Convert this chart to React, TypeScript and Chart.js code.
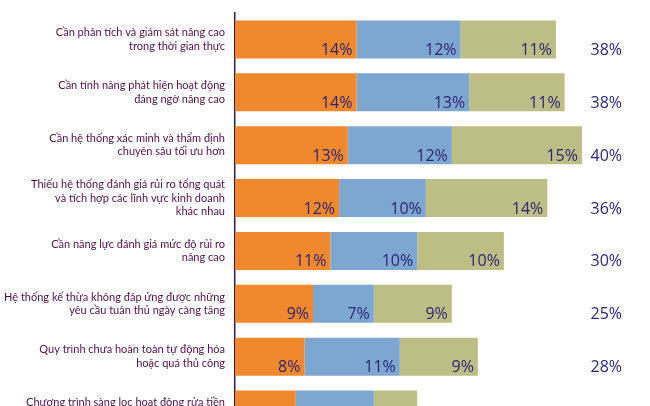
import React, { useEffect, useRef } from "react";
import { Chart, registerables } from "chart.js";

Chart.register(...registerables);

const categories: string[][] = [
  ["Cần phân tích và giám sát nâng cao", "trong thời gian thực"],
  ["Cần tính năng phát hiện hoạt động", "đáng ngờ nâng cao"],
  ["Cần hệ thống xác minh và thẩm định", "chuyên sâu tối ưu hơn"],
  ["Thiếu hệ thống đánh giá rủi ro tổng quát", "và tích hợp các lĩnh vực kinh doanh", "khác nhau"],
  ["Cần năng lực đánh giá mức độ rủi ro", "nâng cao"],
  ["Hệ thống kế thừa không đáp ứng được những", "yêu cầu tuân thủ ngày càng tăng"],
  ["Quy trình chưa hoàn toàn tự động hóa", "hoặc quá thủ công"],
  ["Chương trình sàng lọc hoạt động rửa tiền", "chưa hiệu quả"],
];

const seriesA = [14, 14, 13, 12, 11, 9, 8, 7];
const seriesB = [12, 13, 12, 10, 10, 7, 11, 9];
const seriesC = [11, 11, 15, 14, 10, 9, 9, 5];
const totals = [38, 38, 40, 36, 30, 25, 28, 21];

const seriesNames = ["Nhóm 1", "Nhóm 2", "Nhóm 3"];
const colors = ["#F0882E", "#7DA7D0", "#BDBD86"];
const textColor = "#2E2574";
const labelColor = "#4E1249";

const valuePlugin = {
  id: "valueLabels",
  afterDatasetsDraw(chart: any) {
    const ctx = chart.ctx;
    ctx.save();
    ctx.font = "16px 'Open Sans'";
    ctx.fillStyle = textColor;
    ctx.textAlign = "right";
    ctx.textBaseline = "alphabetic";
    chart.data.datasets.forEach((ds: any, d: number) => {
      const meta = chart.getDatasetMeta(d);
      meta.data.forEach((bar: any, i: number) => {
        const p = bar.getProps(["x", "y", "height"], true);
        ctx.fillText(ds.data[i] + "%", p.x - 4, p.y + p.height / 2 - 3.5);
      });
    });
    const meta0 = chart.getDatasetMeta(0);
    meta0.data.forEach((bar: any, i: number) => {
      const p = bar.getProps(["y", "height"], true);
      ctx.fillText(totals[i] + "%", chart.chartArea.right - 12, p.y + p.height / 2 - 3.5);
    });
    ctx.restore();
  },
};

export default function App() {
  const ref = useRef<HTMLCanvasElement | null>(null);
  useEffect(() => {
    if (!ref.current) return;
    const chart = new Chart(ref.current, {
      type: "bar",
      data: {
        labels: categories as any,
        datasets: [seriesA, seriesB, seriesC].map((data, k) => ({
          label: seriesNames[k],
          data,
          backgroundColor: colors[k],
          borderWidth: 0,
          barPercentage: 0.72,
          categoryPercentage: 1,
        })),
      },
      options: {
        indexAxis: "y",
        animation: false,
        responsive: true,
        maintainAspectRatio: false,
        layout: { padding: { top: 13, bottom: 0, left: 0, right: 16 } },
        plugins: { legend: { display: false }, tooltip: { enabled: false } },
        scales: {
          x: {
            stacked: true,
            display: false,
            min: 0,
            max: 46,
          },
          y: {
            stacked: true,
            grid: { display: false },
            border: { display: true, color: "#3B1A45", width: 1.5 },
            afterFit: (s: any) => {
              s.width = 235;
              s.paddingTop = 0;
              s.paddingBottom = 0;
            },
            ticks: {
              color: labelColor,
              padding: 2,
              font: { family: "Lato, sans-serif", size: 11, lineHeight: 1.23 },
            },
          },
        },
      },
      plugins: [valuePlugin],
    });
    return () => chart.destroy();
  }, []);
  return (
    <div style={{ position: "fixed", top: 0, left: 0, width: 650, height: 406, overflow: "hidden", background: "#fff" }}>
      <div style={{ position: "relative", width: 650, height: 436 }}>
        <canvas ref={ref} />
      </div>
    </div>
  );
}
